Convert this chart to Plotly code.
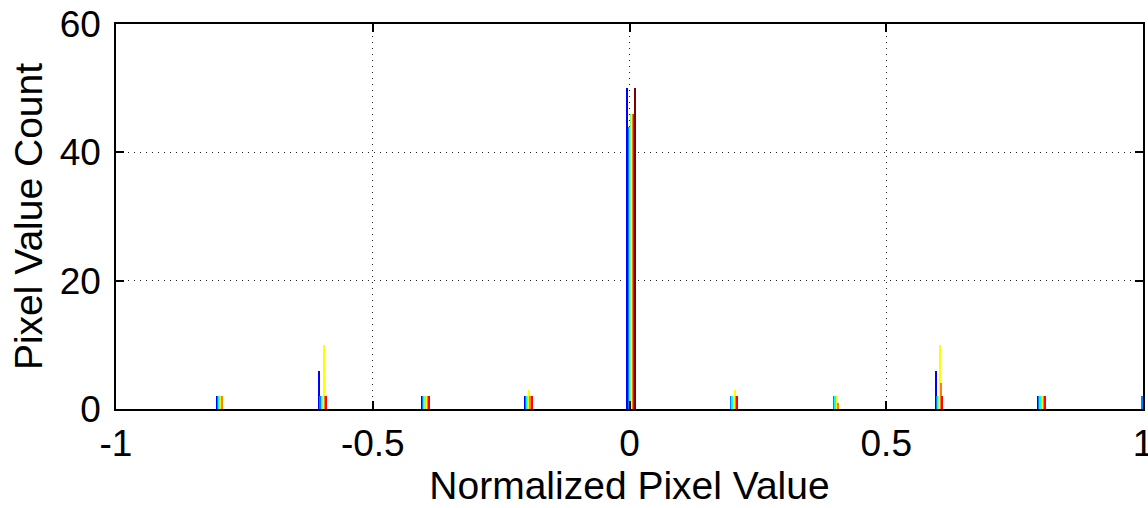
import plotly.graph_objects as go

# Bin centres (normalized pixel value)
bins = [-1.0, -0.8, -0.6, -0.4, -0.2, 0.0, 0.2, 0.4, 0.6, 0.8, 1.0]

# Counts per series (8 series, jet colour order)
s1_blue      = [0, 2, 6, 2, 2, 50, 0, 0, 6, 2, 0]
s2_lightblue = [0, 2, 2, 2, 2, 44, 2, 2, 2, 2, 2]
s3_cyan      = [0, 2, 2, 2, 2, 44, 2, 2, 2, 2, 0]
s4_green     = [0, 2, 2, 2, 2, 46, 0, 0, 2, 2, 0]
s5_yellow    = [0, 2, 10, 2, 3, 46, 3, 2, 10, 2, 0]
s6_orange    = [0, 2, 2, 2, 2, 46, 2, 1, 4, 2, 0]
s7_red       = [0, 0, 2, 2, 2, 46, 2, 0, 2, 2, 0]
s8_darkred   = [0, 0, 0, 0, 0, 50, 0, 0, 0, 0, 0]

series = [s1_blue, s2_lightblue, s3_cyan, s4_green, s5_yellow, s6_orange, s7_red, s8_darkred]
colors = ["#0000ff", "#0080ff", "#00ffff", "#80ff80", "#ffff00", "#ff8000", "#ff0000", "#800000"]

x_ticks = [-1, -0.5, 0, 0.5, 1]
x_tick_labels = ["-1", "-0.5", "0", "0.5", "1"]
y_ticks = [0, 20, 40, 60]

bar_w = 0.0022
start = -0.005

fig = go.Figure()
for i, (vals, col) in enumerate(zip(series, colors)):
    fig.add_trace(go.Bar(
        x=bins, y=vals,
        width=bar_w, offset=start + i * bar_w,
        marker=dict(color=col, line=dict(width=0)),
        showlegend=False,
    ))

font_family = "Liberation Sans, Arial, Helvetica, sans-serif"

fig.update_layout(
    width=1148, height=508,
    margin=dict(l=116, r=5, t=24, b=99),
    paper_bgcolor="white", plot_bgcolor="white",
    barmode="overlay",
    bargap=0,
    font=dict(family=font_family, color="black", size=37),
)

fig.update_xaxes(
    range=[-1, 1],
    tickvals=x_ticks, ticktext=x_tick_labels,
    tickfont=dict(size=37),
    ticks="inside", ticklen=8, tickwidth=1.5, tickcolor="black",
    showline=True, linecolor="black", linewidth=1.5, mirror="ticks",
    showgrid=True, gridcolor="#222222", gridwidth=1.2, griddash="1px,5px",
    zeroline=False,
    automargin=False,
    ticklabeloverflow="allow",
    ticklabelstandoff=1,
    title=dict(text="Normalized Pixel Value", font=dict(size=39), standoff=8),
)
fig.update_yaxes(
    range=[0, 60],
    tickvals=y_ticks,
    tickfont=dict(size=37),
    ticks="inside", ticklen=8, tickwidth=1.5, tickcolor="black",
    showline=True, linecolor="black", linewidth=1.5, mirror="ticks",
    showgrid=True, gridcolor="#222222", gridwidth=1.2, griddash="1px,5px",
    zeroline=False,
    automargin=False,
    ticklabelstandoff=6,
    title=dict(text="Pixel Value Count", font=dict(size=39), standoff=5),
)

fig.write_html(
    "out.html",
    config={"displayModeBar": False},
    post_script="document.body.style.margin='0';document.body.style.overflow='hidden';",
)
